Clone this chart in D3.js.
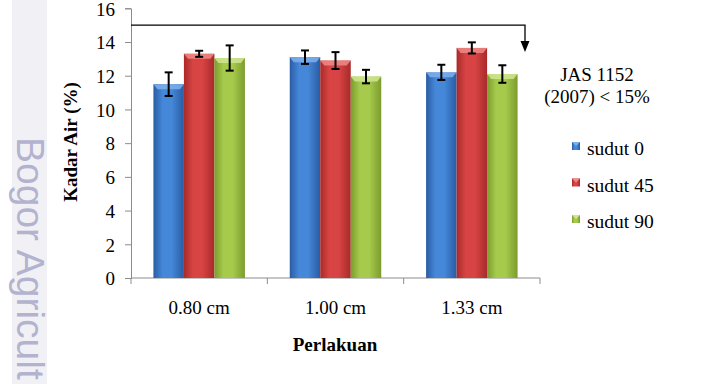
<!DOCTYPE html>
<html>
<head>
<meta charset="utf-8">
<script src="https://cdn.jsdelivr.net/npm/d3@7"></script>
<style>
  body { margin: 0; background: #fff; }
  text { font-family: "Liberation Serif", "Times New Roman", serif; }
</style>
</head>
<body>
<svg id="chart" width="709" height="384"></svg>
<script>
var categories = ['0.80 cm', '1.00 cm', '1.33 cm'];
var seriesNames = ['sudut 0', 'sudut 45', 'sudut 90'];
var sudut0 = [11.5, 13.1, 12.2];
var sudut45 = [13.3, 12.9, 13.65];
var sudut90 = [13.05, 11.95, 12.1];
var err0 = [0.7, 0.4, 0.45];
var err45 = [0.18, 0.5, 0.33];
var err90 = [0.75, 0.4, 0.52];
var yTicks = [0, 2, 4, 6, 8, 10, 12, 14, 16];
var limitValue = 15;

var values = [sudut0, sudut45, sudut90];
var errors = [err0, err45, err90];
var colors = [
	{mid: '#4587d8', edge: '#2a5ca4', top: '#7fb0ea'},
	{mid: '#d84444', edge: '#a82a2a', top: '#ee8a86'},
	{mid: '#a6cb4c', edge: '#7c9c2e', top: '#cfe690'}
];

var svg = d3.select('#chart');

// watermark strip
svg.append('rect')
	.attr('x', 12).attr('y', 0)
	.attr('width', 35).attr('height', 384)
	.attr('fill', '#f1f1f5');
svg.append('text')
	.attr('transform', 'translate(17, 137) rotate(90)')
	.style('font-family', '"Liberation Sans", Arial, sans-serif')
	.attr('font-size', 39)
	.attr('fill', '#b3b3cf')
	.text('Bogor Agricult');

var x0 = d3.scaleBand().domain(categories).range([131, 540]).paddingInner(0).paddingOuter(0);
var y = d3.scaleLinear().domain([0, 16]).range([278, 8.3]);
var barW = 30.5;

var defs = svg.append('defs');
colors.forEach(function(c, i){
	var g = defs.append('linearGradient').attr('id', 'grad' + i)
		.attr('x1', '0%').attr('x2', '100%').attr('y1', '0%').attr('y2', '0%');
	g.append('stop').attr('offset', '0%').attr('stop-color', c.edge);
	g.append('stop').attr('offset', '30%').attr('stop-color', c.mid);
	g.append('stop').attr('offset', '60%').attr('stop-color', c.mid);
	g.append('stop').attr('offset', '100%').attr('stop-color', c.edge);
});

// axes
var yAxis = d3.axisLeft(y).tickValues(yTicks).tickSize(6).tickPadding(10);
var gy = svg.append('g').attr('transform', 'translate(131,0)').call(yAxis);
gy.attr('font-family', null);
gy.select('.domain').attr('stroke', '#8c8c8c');
gy.selectAll('.tick line').attr('stroke', '#8c8c8c');
gy.selectAll('.tick text')
	.attr('font-size', 19).attr('fill', '#000')
	.attr('dy', '0.36em');

var gx = svg.append('g').attr('transform', 'translate(0,278)');
gx.append('line').attr('x1', 131).attr('x2', 540).attr('y1', 0).attr('y2', 0).attr('stroke', '#8c8c8c');
gx.selectAll('line.tk')
	.data(categories.map(function(c){ return x0(c); }).concat([540]))
	.enter().append('line')
	.attr('class', 'tk')
	.attr('x1', function(d){ return d; }).attr('x2', function(d){ return d; })
	.attr('y1', 0).attr('y2', 6)
	.attr('stroke', '#8c8c8c');
gx.selectAll('text')
	.data(categories)
	.enter().append('text')
	.attr('x', function(d){ return x0(d) + x0.bandwidth() / 2; })
	.attr('y', 36)
	.attr('text-anchor', 'middle')
	.attr('font-size', 19)
	.text(function(d){ return d; });

// bars
seriesNames.forEach(function(s, si){
	categories.forEach(function(c, ci){
		var v = values[si][ci];
		var bx = x0(c) + x0.bandwidth() / 2 - barW * 1.5 + si * barW;
		var by = y(v);
		svg.append('rect')
			.attr('x', bx).attr('y', by)
			.attr('width', barW).attr('height', y(0) - by)
			.attr('fill', 'url(#grad' + si + ')');
		svg.append('path')
			.attr('d', 'M' + bx + ',' + by + 'L' + (bx + barW) + ',' + by +
				'L' + (bx + barW - 4) + ',' + (by + 5) + 'L' + (bx + 4) + ',' + (by + 5) + 'Z')
			.attr('fill', colors[si].top)
			.attr('opacity', 0.85);
		var e = errors[si][ci];
		var cx = bx + barW / 2;
		var eb = svg.append('g').attr('stroke', '#000').attr('stroke-width', 2);
		eb.append('line').attr('x1', cx).attr('x2', cx).attr('y1', y(v + e)).attr('y2', y(v - e));
		eb.append('line').attr('x1', cx - 4).attr('x2', cx + 4).attr('y1', y(v + e)).attr('y2', y(v + e));
		eb.append('line').attr('x1', cx - 4).attr('x2', cx + 4).attr('y1', y(v - e)).attr('y2', y(v - e));
	});
});

// limit line with arrow
var ly = y(limitValue);
svg.append('path')
	.attr('d', 'M131,' + ly + 'H525V45')
	.attr('fill', 'none').attr('stroke', '#000').attr('stroke-width', 1.3);
svg.append('path')
	.attr('d', 'M520.5,41L529.5,41L525,52Z')
	.attr('fill', '#000');

svg.append('text')
	.attr('x', 597).attr('y', 81)
	.attr('text-anchor', 'middle').attr('font-size', 19)
	.text('JAS 1152');
svg.append('text')
	.attr('x', 597).attr('y', 103)
	.attr('text-anchor', 'middle').attr('font-size', 19)
	.text('(2007) < 15%');

// legend
var legend = svg.selectAll('g.leg')
	.data(seriesNames)
	.enter().append('g')
	.attr('class', 'leg')
	.attr('transform', function(d, i){ return 'translate(572,' + (142 + i * 36.5) + ')'; });
legend.append('rect')
	.attr('width', 8).attr('height', 8)
	.attr('fill', function(d, i){ return 'url(#grad' + i + ')'; });
legend.append('path')
	.attr('d', 'M0,0L8,0L4,4Z')
	.attr('fill', function(d, i){ return colors[i].top; });
legend.append('text')
	.attr('x', 15).attr('y', 13)
	.attr('font-size', 19.5)
	.text(function(d){ return d; });

// axis titles
svg.append('text')
	.attr('transform', 'translate(77,142) rotate(-90)')
	.attr('text-anchor', 'middle')
	.attr('font-size', 19).attr('font-weight', 'bold')
	.text('Kadar Air (%)');
svg.append('text')
	.attr('x', 335).attr('y', 351)
	.attr('text-anchor', 'middle')
	.attr('font-size', 19).attr('font-weight', 'bold')
	.text('Perlakuan');
</script>
</body>
</html>
